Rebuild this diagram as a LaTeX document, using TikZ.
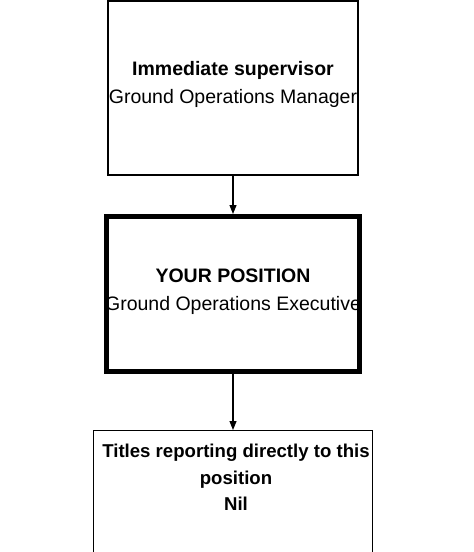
\documentclass[tikz,border=0pt]{standalone}
\usepackage{fontspec}
\setmainfont{Liberation Sans}
\usepackage{tikz}
\usetikzlibrary{arrows.meta, positioning}

\tikzset{
  box/.style={draw, rectangle, line width=1.4pt, inner sep=0pt},
  thickbox/.style={box, line width=5pt},
  boxtext/.style={align=center, inner sep=0pt},
  link/.style={line width=1.1pt, -{Triangle[width=7pt,length=9pt]}}
}

\begin{document}
\begin{tikzpicture}[x=1pt, y=-1pt, font=\fontsize{19.5}{28}\selectfont]
    \useasboundingbox (0,0) rectangle (474,552);
    \clip (0,0) rectangle (474,552);

    % Boxes
    \node[box, minimum width=250pt, minimum height=174pt] (super) at (233,88) {};
    \node[thickbox, minimum width=253pt, minimum height=155pt] (yours) at (233,294) {};
    \node[box, anchor=north, minimum width=279pt, minimum height=200pt] (reports) at (233,430) {};

    % Texts
    \node[boxtext, yshift=4pt] (supertext) at (super.center)
        {\textbf{Immediate supervisor}\\Ground Operations Manager};
    \node[boxtext, yshift=2pt] (yourstext) at (yours.center)
        {\textbf{YOUR POSITION}\\Ground Operations Executive};
    \node[boxtext, below=14pt of reports.north, xshift=3pt, font=\fontsize{18.6}{26.5}\selectfont\bfseries] (reportstext)
        {Titles reporting directly to this\\position\\Nil};

    % Links
    \draw[link] (super) -- (yours);
    \draw[link] (yours) -- (reports);

\end{tikzpicture}
\end{document}
